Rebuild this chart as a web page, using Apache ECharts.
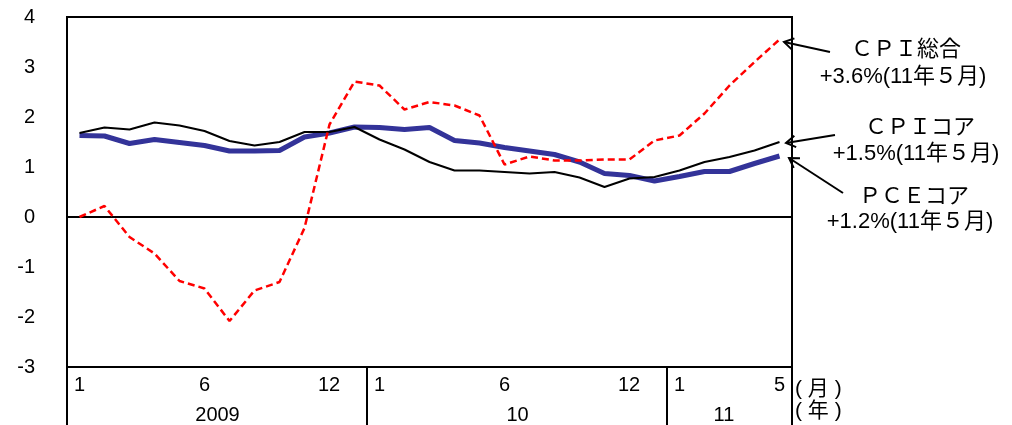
<!DOCTYPE html>
<html>
<head>
<meta charset="utf-8">
<script src="https://cdn.jsdelivr.net/npm/echarts@6/dist/echarts.min.js"></script>
<style>
html,body{margin:0;padding:0;background:#fff;}
#chart{width:1012px;height:425px;}
</style>
</head>
<body>
<div id="chart"></div>
<script>
// ---- data ----
const categories = [
  '2009/1','2009/2','2009/3','2009/4','2009/5','2009/6','2009/7','2009/8','2009/9','2009/10','2009/11','2009/12',
  '2010/1','2010/2','2010/3','2010/4','2010/5','2010/6','2010/7','2010/8','2010/9','2010/10','2010/11','2010/12',
  '2011/1','2011/2','2011/3','2011/4','2011/5'
];
const cpiTotal = [0.0, 0.22, -0.4, -0.73, -1.28, -1.43, -2.08, -1.47, -1.3, -0.22, 1.85, 2.71, 2.63, 2.15, 2.3, 2.23, 2.03, 1.05, 1.21, 1.13, 1.13, 1.15, 1.15, 1.53, 1.63, 2.07, 2.63, 3.1, 3.55];
const cpiCore  = [1.68, 1.79, 1.75, 1.89, 1.83, 1.72, 1.52, 1.43, 1.5, 1.7, 1.7, 1.8, 1.55, 1.35, 1.1, 0.93, 0.93, 0.9, 0.87, 0.9, 0.79, 0.6, 0.77, 0.8, 0.93, 1.1, 1.2, 1.33, 1.5];
const pceCore  = [1.63, 1.62, 1.47, 1.55, 1.49, 1.43, 1.32, 1.32, 1.33, 1.6, 1.68, 1.8, 1.79, 1.75, 1.79, 1.53, 1.48, 1.39, 1.32, 1.25, 1.1, 0.87, 0.83, 0.72, 0.81, 0.91, 0.91, 1.07, 1.22];
const monthTickLabels = {'2009/1':'1','2009/6':'6','2009/12':'12','2010/1':'1','2010/6':'6','2010/12':'12','2011/1':'1','2011/5':'5'};
const yearTickLabels = {'2009/6':'2009','2010/6':'10','2011/3':'11'};
const yearStarts = ['2009/1','2010/1','2011/1'];
const yTicks = {min:-3, max:4, interval:1};
const annotations = [
  {name:'ＣＰＩ総合', value:'+3.6%(11年５月)'},
  {name:'ＣＰＩコア', value:'+1.5%(11年５月)'},
  {name:'ＰＣＥコア', value:'+1.2%(11年５月)'}
];

// ---- chart ----
const FONT = '"Liberation Sans", Arial, "Noto Sans CJK JP", sans-serif';
const chart = echarts.init(document.getElementById('chart'));

function arrow(x1, y1, x2, y2) { // from (x1,y1) to tip (x2,y2)
  const ang = Math.atan2(y1 - y2, x1 - x2);
  const L = 11, a = 0.55;
  const p1 = [x2 + L * Math.cos(ang + a), y2 + L * Math.sin(ang + a)];
  const p2 = [x2 + L * Math.cos(ang - a), y2 + L * Math.sin(ang - a)];
  const st = {stroke:'#000', lineWidth:2, fill:null};
  return [
    {type:'line', shape:{x1:x1, y1:y1, x2:x2, y2:y2}, style:st, z:100},
    {type:'polyline', shape:{points:[p1, [x2, y2], p2]}, style:st, z:100}
  ];
}
function txt(x, y, text, align, size) {
  return {type:'text', x:x, y:y, z:100, style:{text:text, font:(size || 22) + 'px ' + FONT, fill:'#000', align:align || 'center', verticalAlign:'middle'}};
}

const graphics = [].concat(
  arrow(830, 52, 784, 42),
  arrow(835, 135, 786, 143),
  arrow(843, 193, 789, 158),
  [
    txt(906, 50, annotations[0].name),
    txt(903, 77, annotations[0].value),
    txt(920, 128, annotations[1].name),
    txt(916, 154, annotations[1].value),
    txt(914, 197, annotations[2].name),
    txt(910, 222, annotations[2].value),
    txt(795, 389, '( 月 )', 'left', 21),
    txt(795, 411, '( 年 )', 'left', 21)
  ]
);

const option = {
  animation:false,
  backgroundColor:'#fff',
  grid:{left:67, top:17, width:725, height:350, show:true, borderColor:'#000', borderWidth:2, backgroundColor:'transparent'},
  xAxis:[
    {
      type:'category', data:categories, boundaryGap:true, position:'bottom',
      axisLine:{show:true, onZero:false, lineStyle:{color:'#000', width:2}},
      axisTick:{show:true, length:60, lineStyle:{color:'#000', width:2},
        interval:function(i, v){ return yearStarts.indexOf(v) >= 0; }},
      axisLabel:{
        interval:function(i, v){ return monthTickLabels[v] !== undefined; },
        color:'#000', fontSize:20, fontFamily:FONT, margin:8,
        formatter:function(v){
          const t = monthTickLabels[v];
          if (t === undefined) return '';
          return t === '12' ? '{s|' + t + '}' : t;
        },
        rich:{s:{fontSize:20, fontFamily:FONT, color:'#000', padding:[0,51,0,0]}}
      },
      splitLine:{show:false}
    },
    {
      type:'category', data:categories, boundaryGap:true, position:'bottom',
      axisLine:{show:false, onZero:false}, axisTick:{show:false}, splitLine:{show:false},
      axisLabel:{
        interval:function(i, v){ return yearTickLabels[v] !== undefined; },
        color:'#000', fontSize:20, fontFamily:FONT, margin:38,
        formatter:function(v){
          const t = yearTickLabels[v];
          if (t === undefined) return '';
          return t === '11' ? '{b|' + t + '}' : '{a|' + t + '}';
        },
        rich:{
          a:{fontSize:20, fontFamily:FONT, color:'#000', padding:[0,0,0,26]},
          b:{fontSize:20, fontFamily:FONT, color:'#000', padding:[0,11,0,0]}
        }
      }
    }
  ],
  yAxis:{
    type:'value', min:yTicks.min, max:yTicks.max, interval:yTicks.interval,
    axisLine:{show:false}, axisTick:{show:false}, splitLine:{show:false},
    axisLabel:{color:'#000', fontSize:20, fontFamily:FONT, margin:32}
  },
  series:[
    {
      name:'PCEコア', type:'line', data:pceCore, symbol:'none', z:3,
      lineStyle:{color:'#333399', width:5},
      markLine:{silent:true, symbol:'none', label:{show:false},
        lineStyle:{color:'#000', width:2, type:'solid'}, data:[{yAxis:0}], z:1}
    },
    {
      name:'CPIコア', type:'line', data:cpiCore, symbol:'none', z:4,
      lineStyle:{color:'#000', width:2}
    },
    {
      name:'CPI総合', type:'line', data:cpiTotal, symbol:'none', z:5,
      lineStyle:{color:'#ff0000', width:2.5, type:[7,4]}
    }
  ],
  graphic:graphics
};
chart.setOption(option);
</script>
</body>
</html>
